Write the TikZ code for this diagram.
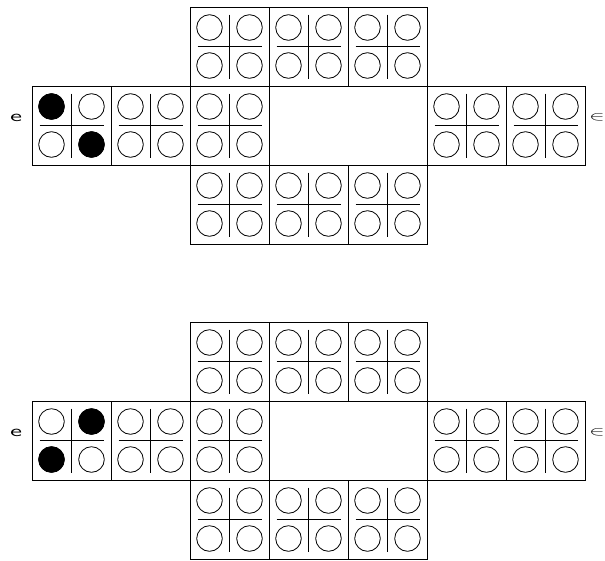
\documentclass[tikz,border=0pt]{standalone}
\usepackage{tikz}
\begin{document}
\begin{tikzpicture}[x=1pt,y=-1pt,line width=0.8pt,
  hole/.style={draw},
  stone/.style={draw,fill=black},
  sidemark/.style={inner sep=0pt,font=\sffamily\fontsize{10}{10}\selectfont}]
  \useasboundingbox (0,0) rectangle (605,560);
  \foreach \oy in {0,315} {
    % cells (top-left corners)
    \foreach \cx/\cy in {190/7,269/7,348/7,32/86,111/86,190/86,427/86,506/86,190/165,269/165,348/165} {
      \pgfmathsetmacro\mx{\cx+39.5}
      \pgfmathsetmacro\my{\cy+\oy+39.5}
      \draw (\cx,\cy+\oy) rectangle ++(79,79);
      \draw (\mx-32,\my) -- (\mx+32,\my);
      \draw (\mx,\my-32) -- (\mx,\my+32);
      \foreach \dx in {-20,20}
        \foreach \dy in {-19,19}
          \draw[hole] (\mx+\dx,\my+\dy) circle[radius=12.8];
    }
    % centre
    \draw (269,86+\oy) rectangle (427,165+\oy);
    \node[sidemark] (lmark\oy) at (16,118+\oy) {\scalebox{2.7}[1.6]{e}};
    \node[sidemark] (rmark\oy) at (597,117+\oy) {\scalebox{2.3}[1.3]{$\in$}};
  }
  % pieces
  \draw[stone] (51.5,106.5) circle[radius=12.8];
  \draw[stone] (91.5,144.5) circle[radius=12.8];
  \draw[stone] (91.5,421.5) circle[radius=12.8];
  \draw[stone] (51.5,459.5) circle[radius=12.8];
\end{tikzpicture}
\end{document}
